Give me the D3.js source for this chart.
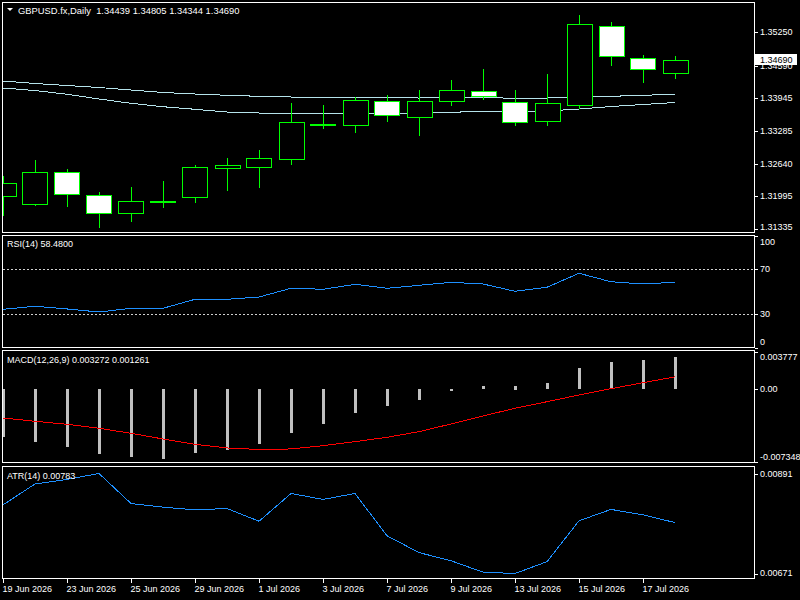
<!DOCTYPE html>
<html>
<head>
<meta charset="utf-8">
<script src="https://cdn.jsdelivr.net/npm/d3@7"></script>
<style>
  html, body { margin: 0; padding: 0; background: #000; }
  svg { display: block; }
  text { font-family: "Liberation Sans", Arial, sans-serif; font-size: 9px; fill: #fff; white-space: pre; }
</style>
</head>
<body>
<div id="chart"></div>
<script>
// ── Data ─────────────────────────────────────────────────
var dates = ["19 Jun 2026", "22 Jun 2026", "23 Jun 2026", "24 Jun 2026", "25 Jun 2026", "26 Jun 2026",
  "29 Jun 2026", "30 Jun 2026", "1 Jul 2026", "2 Jul 2026", "3 Jul 2026", "6 Jul 2026", "7 Jul 2026",
  "8 Jul 2026", "9 Jul 2026", "10 Jul 2026", "13 Jul 2026", "14 Jul 2026", "15 Jul 2026", "16 Jul 2026",
  "17 Jul 2026", "20 Jul 2026"];

var opens  = [1.31983, 1.31824, 1.32468, 1.32011, 1.31645, 1.31882, 1.31971, 1.32539, 1.32567, 1.32718, 1.33408,
  1.33402, 1.33879, 1.33561, 1.33879, 1.34078, 1.33859, 1.33481, 1.33791, 1.35369, 1.34733, 1.34439];
var highs  = [1.32414, 1.32732, 1.32553, 1.32096, 1.32196, 1.32315, 1.32633, 1.32772, 1.32931, 1.33865, 1.33825,
  1.33984, 1.34024, 1.34123, 1.34322, 1.34541, 1.34123, 1.34441, 1.35614, 1.35475, 1.34819, 1.34805];
var lows   = [1.31619, 1.31820, 1.31804, 1.31387, 1.31506, 1.31784, 1.31884, 1.32122, 1.32182, 1.32639, 1.33354,
  1.33275, 1.33493, 1.33215, 1.33811, 1.33925, 1.33414, 1.33414, 1.33740, 1.34606, 1.34268, 1.34344];
var closes = [1.32249, 1.32468, 1.32023, 1.31645, 1.31891, 1.31901, 1.32567, 1.32607, 1.32746, 1.33461, 1.33428,
  1.33899, 1.33601, 1.33879, 1.34097, 1.33970, 1.33461, 1.33839, 1.35409, 1.34773, 1.34507, 1.34690];

var maSlow = [1.34282, 1.34233, 1.34193, 1.34153, 1.34103, 1.34054, 1.34024, 1.33998, 1.33978, 1.33964, 1.33964,
  1.33964, 1.33958, 1.33944, 1.33954, 1.33954, 1.33938, 1.33944, 1.33958, 1.33978, 1.33998, 1.34018];
var maFast = [1.34143, 1.34093, 1.34018, 1.33925, 1.33839, 1.33771, 1.33720, 1.33666, 1.33646, 1.33640, 1.33640,
  1.33640, 1.33640, 1.33640, 1.33660, 1.33680, 1.33666, 1.33686, 1.33726, 1.33775, 1.33815, 1.33855];

var rsi = [34.4, 37.1, 34.7, 32.0, 35.3, 35.3, 43.3, 43.3, 45.3, 53.1, 52.2, 56.6, 53.1, 55.7, 58.4, 56.9,
  50.4, 54.0, 66.4, 58.9, 56.9, 58.48];

var macdHist = [-0.004848, -0.005323, -0.005899, -0.006607, -0.00691, -0.007042, -0.006506, -0.006132, -0.005525,
  -0.004413, -0.003503, -0.002391, -0.001754, -0.001077, -0.00015, 0.000339, 0.000369, 0.000642, 0.002158,
  0.002765, 0.002967, 0.003272];
var macdSignal = [-0.002897, -0.00323, -0.003533, -0.003938, -0.004443, -0.00502, -0.005555, -0.00593, -0.00608,
  -0.00603, -0.005697, -0.005293, -0.004848, -0.004282, -0.003503, -0.002694, -0.001916, -0.001249, -0.000571,
  0.000066, 0.000672, 0.001261];

var atr = [0.00822, 0.00868, 0.00878, 0.00891, 0.00825, 0.00817, 0.00811, 0.00814, 0.00786, 0.00847, 0.00834,
  0.00847, 0.00754, 0.00717, 0.00699, 0.00674, 0.00671, 0.00697, 0.00787, 0.00812, 0.00800, 0.00783];

var priceTicks = ["1.35250", "1.34590", "1.33945", "1.33285", "1.32640", "1.31995", "1.31335"];
var rsiTicks = ["100", "70", "30", "0"];
var rsiLevels = [70, 30];
var macdTicks = ["0.003777", "0.00", "-0.007348"];
var atrTicks = ["0.00891", "0.00671"];

(function () {
  var W = 800, H = 600;
  var L = 2.5, R = 754.5;
  var green = "#00ff00", frame = "#ffffff", blue = "#1e90ff", maColor = "#b4e2ea";

  var svg = d3.select("#chart").append("svg").attr("width", W).attr("height", H)
    .style("background", "#000");

  var x = d3.scaleLinear().domain([0, dates.length - 1]).range([3, 675]);
  function px(v) { return Math.round(v) + 0.5; }

  // panels: main, RSI, MACD, ATR
  var panels = [
    { id: "main", top: 2.5, bottom: 232.5 },
    { id: "rsi", top: 235.5, bottom: 347.5 },
    { id: "macd", top: 350.5, bottom: 462.5 },
    { id: "atr", top: 466.5, bottom: 578.5 }
  ];
  panels.forEach(function (p) {
    svg.append("defs").append("clipPath").attr("id", "clip-" + p.id)
      .append("rect").attr("x", L + 0.5).attr("y", p.top + 0.5)
      .attr("width", R - L - 1).attr("height", p.bottom - p.top - 1);
    p.g = svg.append("g").attr("clip-path", "url(#clip-" + p.id + ")");
    svg.append("rect").attr("x", L).attr("y", p.top).attr("width", R - L).attr("height", p.bottom - p.top)
      .attr("fill", "none").attr("stroke", frame).attr("stroke-width", 1).attr("shape-rendering", "crispEdges");
  });

  function rightAxis(p, labels, scale) {
    labels.forEach(function (t) {
      var v = +t, yy = scale(v);
      svg.append("line").attr("x1", R).attr("x2", R + 3).attr("y1", px(yy)).attr("y2", px(yy))
        .attr("stroke", frame).attr("shape-rendering", "crispEdges");
      var ly = Math.max(p.top + 6, Math.min(p.bottom - 6, yy));
      svg.append("text").attr("x", 760).attr("y", ly).attr("dy", "0.35em").text(t);
    });
  }

  function linePath(scale) {
    return d3.line().x(function (d, i) { return x(i); }).y(function (d) { return scale(d); });
  }

  // ── Main price panel ─────────────────────────────────────
  var main = panels[0];
  var yP = d3.scaleLinear().domain([1.31335, 1.35250]).range([229.3, 32.3]);

  [maSlow, maFast].forEach(function (s) {
    main.g.append("path").datum(s).attr("d", linePath(yP))
      .attr("fill", "none").attr("stroke", maColor).attr("stroke-width", 1).attr("shape-rendering", "crispEdges");
  });

  var bars = d3.range(dates.length);
  var candle = main.g.selectAll(".candle").data(bars).join("g").attr("class", "candle");
  candle.append("line")
    .attr("x1", function (i) { return px(x(i)); }).attr("x2", function (i) { return px(x(i)); })
    .attr("y1", function (i) { return px(yP(highs[i])); }).attr("y2", function (i) { return px(yP(lows[i])); })
    .attr("stroke", green).attr("shape-rendering", "crispEdges");
  candle.append("rect")
    .attr("x", function (i) { return px(x(i) - 12.5); })
    .attr("width", 25)
    .attr("y", function (i) { return px(yP(Math.max(opens[i], closes[i]))); })
    .attr("height", function (i) {
      return Math.max(1, Math.round(Math.abs(yP(opens[i]) - yP(closes[i]))));
    })
    .attr("fill", function (i) { return closes[i] >= opens[i] ? "#000" : "#fff"; })
    .attr("stroke", green).attr("stroke-width", 1).attr("shape-rendering", "crispEdges");

  rightAxis(main, priceTicks, yP);

  // current price tag (sits over the 1.34590 label, as in the terminal)
  var last = closes[closes.length - 1];
  svg.append("rect").attr("x", 755).attr("y", Math.round(yP(last)) - 6).attr("width", 42).attr("height", 11)
    .attr("fill", "#fff");
  svg.append("text").attr("x", 760).attr("y", yP(last) - 0.5).attr("dy", "0.35em")
    .style("fill", "#000").text(d3.format(".5f")(last));

  // header
  svg.append("path").attr("d", "M7,8L13,8L10,11Z").attr("fill", "#fff");
  svg.append("text").attr("x", 18).attr("y", 14).style("font-size", "9.4px")
    .text("GBPUSD.fx,Daily  " + [opens, highs, lows, closes].map(function (a) {
      return d3.format(".5f")(a[a.length - 1]);
    }).join(" "));

  // ── RSI ─────────────────────────────────────────────────
  var pr = panels[1];
  var yR = d3.scaleLinear().domain([0, 100]).range([348, 235.5]);
  rsiLevels.forEach(function (lv) {
    pr.g.append("line").attr("x1", L).attr("x2", R).attr("y1", px(yR(lv))).attr("y2", px(yR(lv)))
      .attr("stroke", "#d0d0d0").attr("stroke-dasharray", "2,2").attr("shape-rendering", "crispEdges");
  });
  pr.g.append("path").datum(rsi).attr("d", linePath(yR))
    .attr("fill", "none").attr("stroke", blue).attr("shape-rendering", "crispEdges");
  rightAxis(pr, rsiTicks, yR);
  svg.append("text").attr("x", 7).attr("y", 247).text("RSI(14) " + d3.format(".4f")(rsi[rsi.length - 1]));

  // ── MACD ────────────────────────────────────────────────
  var pm = panels[2];
  var yM = d3.scaleLinear().domain([-0.007348, 0.003777]).range([462, 352]);
  pm.g.selectAll(".hist").data(macdHist).join("rect").attr("class", "hist")
    .attr("x", function (d, i) { return Math.round(x(i)) - 1; })
    .attr("width", 3)
    .attr("y", function (d) { return Math.round(Math.min(yM(d), yM(0))); })
    .attr("height", function (d) { return Math.max(2, Math.round(Math.abs(yM(d) - yM(0)))); })
    .attr("fill", "#c0c0c0").attr("shape-rendering", "crispEdges");
  pm.g.append("path").datum(macdSignal).attr("d", linePath(yM))
    .attr("fill", "none").attr("stroke", "#ff0000").attr("shape-rendering", "crispEdges");
  rightAxis(pm, macdTicks, yM);
  svg.append("text").attr("x", 7).attr("y", 363)
    .text("MACD(12,26,9) " + d3.format(".6f")(macdHist[macdHist.length - 1]) + " " +
      d3.format(".6f")(macdSignal[macdSignal.length - 1]));

  // ── ATR ─────────────────────────────────────────────────
  var pa = panels[3];
  var yA = d3.scaleLinear().domain([0.00671, 0.00891]).range([573.5, 473.5]);
  pa.g.append("path").datum(atr).attr("d", linePath(yA))
    .attr("fill", "none").attr("stroke", blue).attr("shape-rendering", "crispEdges");
  rightAxis(pa, atrTicks, yA);
  svg.append("text").attr("x", 7).attr("y", 479).text("ATR(14) " + d3.format(".5f")(atr[atr.length - 1]));

  // ── Time axis ───────────────────────────────────────────
  var tickIdx = bars.filter(function (i) { return i % 2 === 0 && i < dates.length - 1; });
  tickIdx.forEach(function (i) {
    svg.append("line").attr("x1", px(x(i))).attr("x2", px(x(i))).attr("y1", 578.5).attr("y2", 583)
      .attr("stroke", frame).attr("shape-rendering", "crispEdges");
    svg.append("text").attr("x", x(i) - 0.5).attr("y", 592).text(dates[i]);
  });
})();
</script>
</body>
</html>
